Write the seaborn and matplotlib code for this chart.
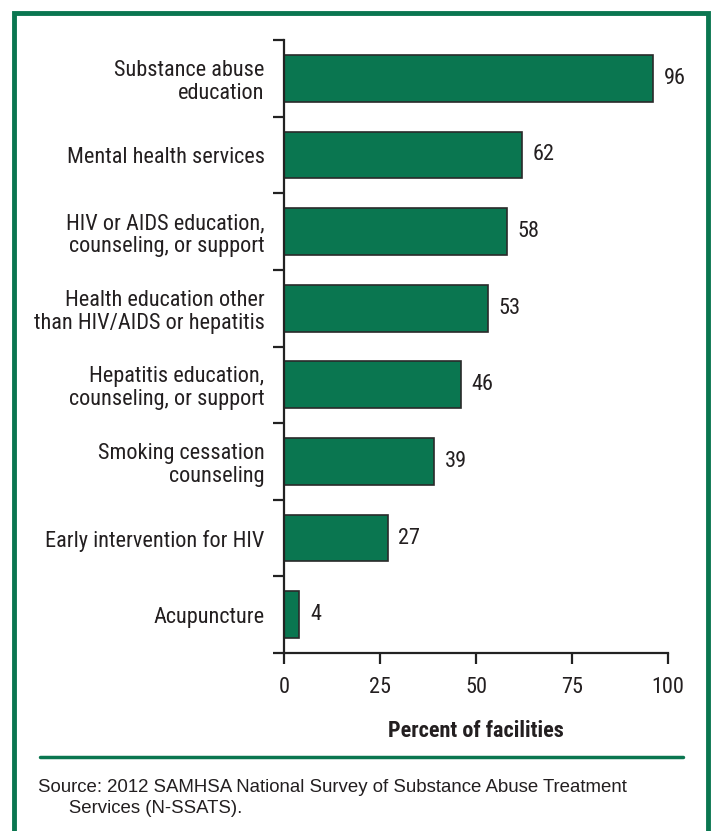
import matplotlib
matplotlib.use("Agg")
import matplotlib.pyplot as plt
import matplotlib.patches as mpatches
import seaborn as sns
import pandas as pd
import numpy as np
from matplotlib import font_manager

categories = [
    "Substance abuse\neducation",
    "Mental health services",
    "HIV or AIDS education,\ncounseling, or support",
    "Health education other\nthan HIV/AIDS or hepatitis",
    "Hepatitis education,\ncounseling, or support",
    "Smoking cessation\ncounseling",
    "Early intervention for HIV",
    "Acupuncture",
]
values = [96, 62, 58, 53, 46, 39, 27, 4]
xticks = [0, 25, 50, 75, 100]
xlabel = "Percent of facilities"
source = "Source: 2012 SAMHSA National Survey of Substance Abuse Treatment\n      Services (N-SSATS)."

sns.set_theme(style="white")
names = {f.name for f in font_manager.fontManager.ttflist}
fam = next((n for n in ["Roboto Condensed", "Archivo Narrow", "Liberation Sans Narrow",
                        "Liberation Sans"] if n in names), "DejaVu Sans")
plt.rcParams["font.family"] = [fam, "DejaVu Sans"]

GREEN = "#0a7650"
TXT = "#231f20"
FS = 16

df = pd.DataFrame({"cat": categories, "val": values})

W, H = 712, 831
fig = plt.figure(figsize=(W / 100, H / 100), dpi=100)
ax = fig.add_axes([284 / W, 1 - 653 / H, (668 - 284) / W, (653 - 40) / H])

sns.barplot(data=df, y="cat", x="val", orient="h", ax=ax, color=GREEN,
            width=0.61, edgecolor="#2a2a2a", linewidth=1.2, saturation=1)

ax.set_xlim(0, 100)
ax.set_ylim(len(categories) - 0.5, -0.5)
ax.set_xticks(xticks)
ax.set_xticklabels([str(t) for t in xticks], fontsize=FS, color=TXT)
ax.set_yticks(range(len(categories)))
ax.set_yticklabels(categories, fontsize=FS, color=TXT, linespacing=1.12)
ax.set_yticks(np.arange(-0.5, len(categories), 1), minor=True)
ax.tick_params(axis="y", which="major", length=0, pad=14, left=True)
ax.tick_params(axis="y", which="minor", length=8, width=1.6, color="#222222", direction="out", left=True)
ax.tick_params(axis="x", which="major", length=8, width=1.6, color="#222222", direction="out", pad=9, bottom=True)
ax.set_ylabel("")
ax.set_xlabel(xlabel, fontsize=FS, fontweight="bold", color=TXT, labelpad=16)

for s in ["top", "right"]:
    ax.spines[s].set_visible(False)
for s in ["left", "bottom"]:
    ax.spines[s].set_color("#222222")
    ax.spines[s].set_linewidth(1.6)

for i, v in enumerate(values):
    ax.text(v + 2.8, i, str(v), va="center", ha="left", fontsize=FS, color=TXT)

fig.patches.append(mpatches.Rectangle((14 / W, -0.05), (708 - 14) / W, 1.05 - 13 / H,
                                      transform=fig.transFigure, fill=False,
                                      edgecolor=GREEN, linewidth=3.5))
fig.add_artist(plt.Line2D([40 / W, 683 / W], [1 - 757 / H, 1 - 757 / H],
                          transform=fig.transFigure, color=GREEN, linewidth=2.5))
fig.text(38 / W, 1 - 779 / H, source, fontsize=13.4, color=TXT, va="top", ha="left",
         linespacing=1.3, family=["Liberation Sans", "DejaVu Sans"])

fig.savefig("out.png", dpi=100)
